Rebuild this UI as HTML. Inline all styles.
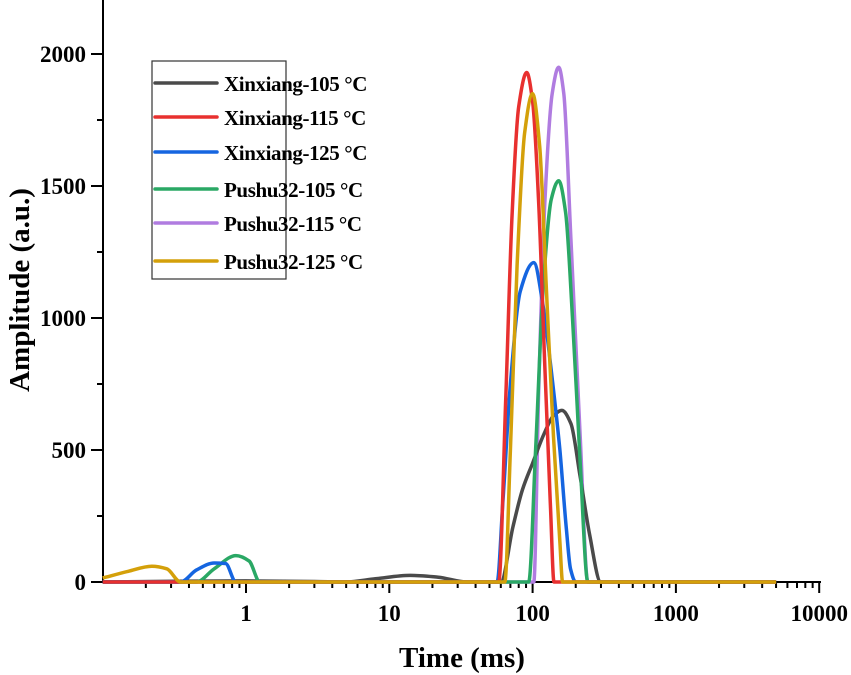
<!DOCTYPE html>
<html><head><meta charset="utf-8"><style>
html,body{margin:0;padding:0;background:#fff;}
svg{display:block;font-family:"Liberation Serif",serif;font-weight:bold;}
</style></head><body>
<svg id="chart" width="851" height="675" xmlns="http://www.w3.org/2000/svg">
<g id="axes"></g>
<g id="series"></g>
<g id="legend"></g>
<text x="462" y="667" font-size="29" text-anchor="middle">Time (ms)</text>
<text transform="translate(29,290) rotate(-90)" font-size="29" text-anchor="middle">Amplitude (a.u.)</text>
</svg>
<script>
const seriesNames = ["Xinxiang-105 °C","Xinxiang-115 °C","Xinxiang-125 °C","Pushu32-105 °C","Pushu32-115 °C","Pushu32-125 °C"];
const seriesColors = ["#4a4a4a","#e8302f","#1565e0","#2aa865","#b07ce0","#d4a00a"];
const xTickValues = [1,10,100,1000,10000];
const xTickLabels = ["1","10","100","1000","10000"];
const yTickValues = [0,500,1000,1500,2000];
const yTickLabels = ["0","500","1000","1500","2000"];
const tX105 = [0.1,1,3,5,8,14,22,35,60,73,85,100,120,140,160,185,214,250,299,5000];
const aX105 = [0,4,2,0,12,25,18,0,0,210,350,450,560,630,650,600,405,180,0,0];
const tX115 = [0.1,58,65,72,80,91,100,110,122,133,141,5000];
const aX115 = [0,0,700,1400,1800,1930,1820,1450,800,300,0,0];
const tX125 = [0.1,0.35,0.45,0.6,0.72,0.85,56.5,62,70,82,102,118,135,155,172,184,200,5000];
const aX125 = [0,0,45,72,70,0,0,300,750,1100,1210,1050,800,500,200,50,0,0];
const tP105 = [0.1,0.45,0.6,0.85,1.05,1.25,94,105,118,135,152,170,190,215,243,5000];
const aP105 = [0,0,50,100,80,0,0,500,1100,1450,1520,1400,1000,450,0,0];
const tP115 = [0.1,102,110,122,137,152,165,185,215,243,5000];
const aP115 = [0,0,700,1450,1850,1950,1850,1300,550,0,0];
const tP125 = [0.1,0.15,0.22,0.28,0.35,64,70,78,88,100,112,125,140,155,162,5000];
const aP125 = [15,40,60,50,0,0,500,1200,1700,1850,1650,1100,550,150,0,0];
const seriesT = [tX105,tX115,tX125,tP105,tP115,tP125];
const seriesA = [aX105,aX115,aX125,aP105,aP115,aP125];

const NS="http://www.w3.org/2000/svg";
const X0=103, X1=820, Y0=582, PX1=246, DEC=143.3, PPU=132/500;
function sx(t){return PX1+Math.log10(t)*DEC;}
function sy(a){return Y0-a*PPU;}
function mk(tag,attrs,parent){const e=document.createElementNS(NS,tag);for(const k in attrs)e.setAttribute(k,attrs[k]);parent.appendChild(e);return e;}
const axes=document.getElementById('axes');
let l=mk('line',{x1:X0,y1:0,x2:X0,y2:Y0+1,stroke:'#000','stroke-width':2},axes);


l=mk('line',{x1:X0-1,y1:Y0,x2:X1+1,y2:Y0,stroke:'#000','stroke-width':2},axes);


yTickValues.forEach((v,i)=>{
  const y=sy(v);
  const t=mk('line',{x1:X0-12,y1:y,x2:X0,y2:y,stroke:'#000','stroke-width':2},axes);
  
  
  const tx=mk('text',{x:X0-17,y:y+8,'font-size':23,'text-anchor':'end'},axes);
  tx.textContent=yTickLabels[i];
  
  
  if(i<yTickValues.length-1){
    const ym=sy(v+250);
    const m=mk('line',{x1:X0-6,y1:ym,x2:X0,y2:ym,stroke:'#000','stroke-width':2},axes);
    
    
  }
});
xTickValues.forEach((v,i)=>{
  const x=sx(v);
  const t=mk('line',{x1:x,y1:Y0,x2:x,y2:Y0+11,stroke:'#000','stroke-width':2},axes);
  
  
  const tx=mk('text',{x:x,y:Y0+39,'font-size':23,'text-anchor':'middle'},axes);
  tx.textContent=xTickLabels[i];
  
  
});
[0.1,1,10,100,1000].forEach(d=>{for(let k=2;k<=9;k++){const v=d*k;const x=sx(v);if(x<X0)continue;
  const m=mk('line',{x1:x,y1:Y0,x2:x,y2:Y0+6,stroke:'#000','stroke-width':2},axes);
  
  }});
const sg=document.getElementById('series');
function pathFor(T,A){
  // monotone cubic (Fritsch-Carlson) in pixel space
  const xs=T.map(sx), ys=A.map(sy), n=xs.length;
  const dx=[],m=[];
  for(let i=0;i<n-1;i++){dx.push(xs[i+1]-xs[i]);m.push((ys[i+1]-ys[i])/dx[i]);}
  const tg=new Array(n);
  tg[0]=m[0];tg[n-1]=m[n-2];
  for(let i=1;i<n-1;i++){
    if(m[i-1]*m[i]<=0)tg[i]=0;
    else{const w1=2*dx[i]+dx[i-1],w2=dx[i]+2*dx[i-1];tg[i]=(w1+w2)/(w1/m[i-1]+w2/m[i]);}
  }
  let d='M'+xs[0].toFixed(1)+','+ys[0].toFixed(1);
  for(let i=0;i<n-1;i++){
    const h=dx[i]/3;
    d+=' C'+(xs[i]+h).toFixed(1)+','+(ys[i]+tg[i]*h).toFixed(1)+' '+(xs[i+1]-h).toFixed(1)+','+(ys[i+1]-tg[i+1]*h).toFixed(1)+' '+xs[i+1].toFixed(1)+','+ys[i+1].toFixed(1);
  }
  return d;
}
const order=[4,0,3,2,1,5];
order.forEach(i=>{
  const pth=mk('path',{d:pathFor(seriesT[i],seriesA[i]),fill:'none',stroke:seriesColors[i],'stroke-width':3.5,'stroke-linejoin':'round'},sg);
  
  
});
const lg=document.getElementById('legend');
const box=mk('rect',{x:152,y:61,width:134,height:218,fill:'#fff',stroke:'#333','stroke-width':1.2},lg);


const rowsY=[83,117,152,189,223,261];
seriesNames.forEach((n,i)=>{
  const ln=mk('line',{x1:155,y1:rowsY[i],x2:217,y2:rowsY[i],stroke:seriesColors[i],'stroke-width':3.5,'stroke-linecap':'round'},lg);
  
  
  const tx=mk('text',{x:224,y:rowsY[i]+8,'font-size':21,'letter-spacing':'-0.4'},lg);
  tx.textContent=n;
  
  
});
</script>
</body></html>
